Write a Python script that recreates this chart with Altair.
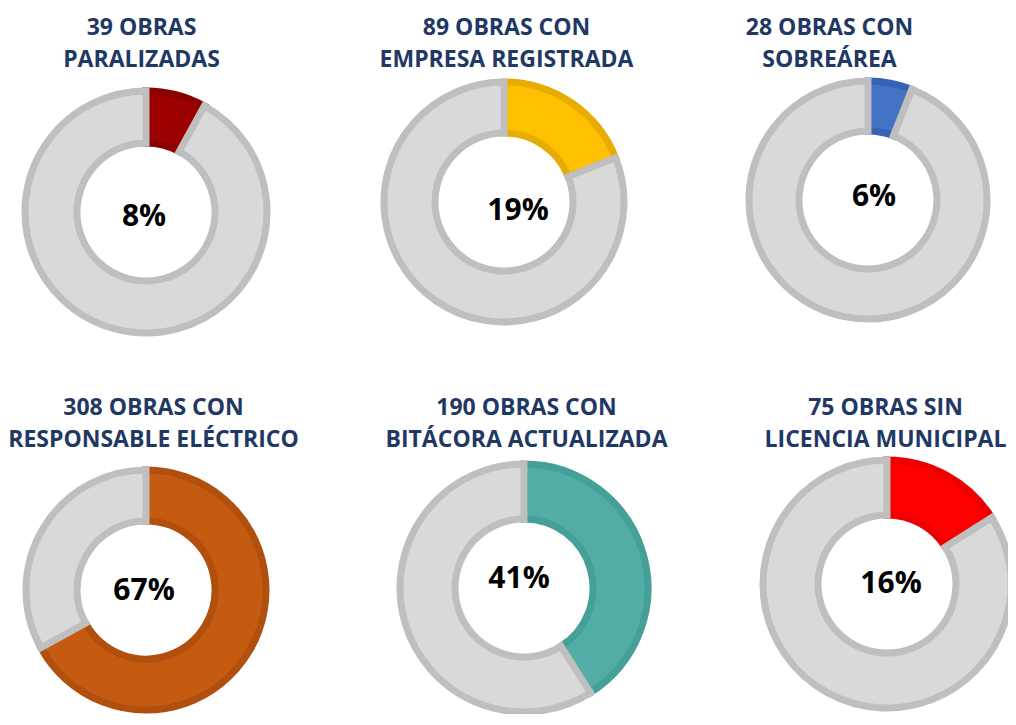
import altair as alt
import pandas as pd

# ---- data ----
title_line1 = ["39 OBRAS", "89 OBRAS CON", "28 OBRAS CON",
               "308 OBRAS CON", "190 OBRAS CON", "75 OBRAS SIN"]
title_line2 = ["PARALIZADAS", "EMPRESA REGISTRADA", "SOBREÁREA",
               "RESPONSABLE ELÉCTRICO", "BITÁCORA ACTUALIZADA", "LICENCIA MUNICIPAL"]
obras = [39, 89, 28, 308, 190, 75]
porcentajes = [8, 19, 6, 67, 41, 16]

# ---- styles ----
fill_colors = ["#9C0000", "#FFC000", "#4472C4", "#C55A11", "#52ADA6", "#FF0000"]
stroke_colors = ["#8A0000", "#E6AC00", "#3563B5", "#B04F0E", "#45A098", "#EC0000"]
GRAY_FILL = "#D9D9D9"
GRAY_STROKE = "#BFBFBF"
NAVY = "#1F3864"

# ---- layout ----
PANEL_W = 333
ROW_H = [290, 260]
centers = [(137, 138), (162, 128), (193, 126), (137, 136), (182, 134), (212, 130)]
outer_r = [121, 120, 119, 120, 124, 124]
inner_r = 69
text_off = [(-2, 5), (14, 9), (6, -3), (-2, 1), (-5, -9), (4, 0)]
title_dx = [-34, -2, -12, -22, 18, 44]


def panel(i, h):
    df = pd.DataFrame({
        "parte": ["valor", "resto"],
        "pct": [porcentajes[i], 100 - porcentajes[i]],
        "orden": [0, 1],
    })
    cx, cy = centers[i]
    arc = alt.Chart(df).mark_arc(
        outerRadius=outer_r[i], innerRadius=inner_r, strokeWidth=7, clip=True
    ).encode(
        theta=alt.Theta("pct:Q", stack=True),
        order=alt.Order("orden:Q"),
        color=alt.Color("parte:N", scale=alt.Scale(domain=["valor", "resto"],
                        range=[fill_colors[i], GRAY_FILL]), legend=None),
        stroke=alt.Stroke("parte:N", scale=alt.Scale(domain=["valor", "resto"],
                          range=[stroke_colors[i], GRAY_STROKE]), legend=None),
        x=alt.value(cx), y=alt.value(cy),
    )
    tdf = pd.DataFrame({"pct": [porcentajes[i]]})
    txt = alt.Chart(tdf).transform_calculate(
        etiqueta="datum.pct + '%'"
    ).mark_text(
        font="Open Sans", fontSize=30, fontWeight="bold", color="#000000",
        align="center", baseline="middle", dx=text_off[i][0], dy=text_off[i][1]
    ).encode(text="etiqueta:N", x=alt.value(cx), y=alt.value(cy))
    return alt.layer(arc, txt).properties(
        width=PANEL_W, height=h,
        view=alt.ViewBackground(stroke="transparent", strokeWidth=0),
        title=alt.TitleParams(
            text=[title_line1[i], title_line2[i]], font="Open Sans", fontSize=23,
            fontWeight="bold", color=NAVY, anchor="middle", frame="group",
            dx=title_dx[i], offset=2, lineHeight=32,
        ),
    )


panels = [panel(i, ROW_H[i // 3]) for i in range(6)]

chart = alt.concat(
    *panels, columns=3, spacing={"row": 90, "column": 0}, bounds="flush"
).resolve_scale(
    color="independent", stroke="independent", theta="independent"
).properties(
    padding={"left": 0, "top": 9, "right": 0, "bottom": 0}
).configure_view(stroke="transparent", strokeWidth=0).configure(background="#FFFFFF")

chart.save("out.html", embed_options={"renderer": "svg", "actions": False})
